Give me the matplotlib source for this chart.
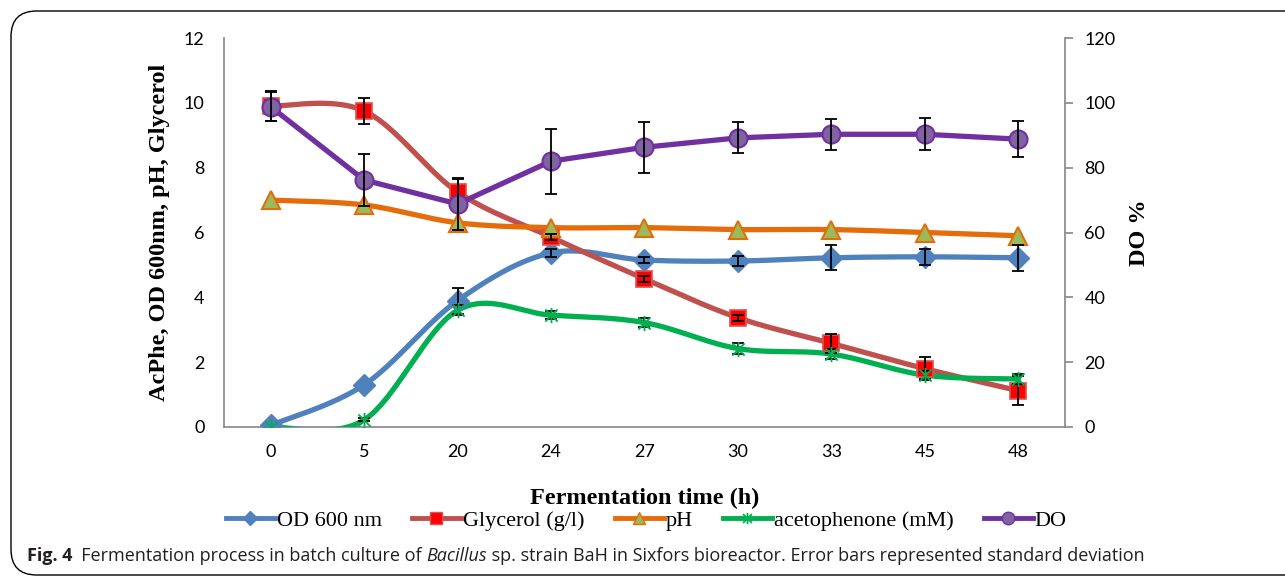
"""Fermentation time course in a batch bioreactor (OD, glycerol, pH, acetophenone, DO)."""

import matplotlib

matplotlib.use("Agg")

import matplotlib.pyplot as plt
import numpy as np
from matplotlib.lines import Line2D
from matplotlib.patches import FancyBboxPatch
from matplotlib.path import Path

TIME_LABELS = ["0", "5", "20", "24", "27", "30", "33", "45", "48"]

OD = [0.05, 1.30, 3.90, 5.37, 5.15, 5.12, 5.22, 5.25, 5.22]
OD_ERR = [0.0, 0.0, 0.40, 0.12, 0.10, 0.15, 0.38, 0.25, 0.40]

GLYCEROL = [9.90, 9.75, 7.25, 5.86, 4.57, 3.37, 2.58, 1.80, 1.12]
GLYCEROL_ERR = [0.45, 0.40, 0.40, 0.10, 0.10, 0.10, 0.30, 0.35, 0.45]

PH = [7.00, 6.85, 6.30, 6.15, 6.15, 6.09, 6.09, 6.00, 5.90]

ACETOPHENONE = [0.00, 0.22, 3.60, 3.45, 3.22, 2.42, 2.25, 1.60, 1.48]
ACETOPHENONE_ERR = [0.0, 0.05, 0.15, 0.12, 0.15, 0.18, 0.15, 0.12, 0.15]

DO = [98.8, 76.2, 68.8, 82.0, 86.3, 89.2, 90.3, 90.3, 88.8]
DO_ERR = [4.5, 8.0, 8.0, 10.0, 7.8, 4.8, 4.7, 5.0, 5.5]

BLUE = "#4f81bd"
RED_LINE = "#c0504d"
ORANGE = "#e46c0a"
OLIVE = "#9bbb59"
GREEN = "#00b050"
PURPLE = "#7030a0"
PURPLE_FILL = "#8064a2"
AXIS_GREY = "#868686"

SERIF = "Liberation Serif"
TICK_FONT = "Lato"
CAPTION_FONT = "Open Sans"

# Excel "star" marker: an x with a vertical stroke through it
STAR = Path(
    [(-1, -1), (1, 1), (-1, 1), (1, -1), (0, -1.25), (0, 1.25)],
    [Path.MOVETO, Path.LINETO, Path.MOVETO, Path.LINETO, Path.MOVETO, Path.LINETO],
)


def smooth(values, steps=40):
    """Excel-style smoothed line: cubic Bezier segments with Catmull-Rom controls."""
    pts = np.column_stack([np.arange(len(values), dtype=float), np.asarray(values, float)])
    n = len(pts)
    out = [pts[0]]
    t = np.linspace(0, 1, steps)[1:, None]
    for i in range(n - 1):
        p0 = pts[i - 1] if i > 0 else pts[i]
        p3 = pts[i + 2] if i + 2 < n else pts[i + 1]
        c1 = pts[i] + (pts[i + 1] - p0) / 6
        c2 = pts[i + 1] - (p3 - pts[i]) / 6
        seg = ((1 - t) ** 3) * pts[i] + 3 * ((1 - t) ** 2) * t * c1 \
            + 3 * (1 - t) * t ** 2 * c2 + t ** 3 * pts[i + 1]
        out.extend(seg)
    out = np.array(out)
    return out[:, 0], out[:, 1]


def errbars(ax, x, y, err, zorder):
    """Black capped error bars, skipping points without a measured deviation."""
    err = np.asarray(err, float)
    keep = err > 0
    ax.errorbar(np.asarray(x)[keep], np.asarray(y, float)[keep], yerr=err[keep],
                fmt="none", ecolor="black", elinewidth=1.3, capsize=4, capthick=1.3,
                zorder=zorder)


def main():
    fig = plt.figure(figsize=(12.85, 5.76), dpi=100)
    ax = fig.add_axes([0.1743, 0.2587, 0.8288 - 0.1743, 0.934 - 0.2587])
    ax2 = ax.twinx()

    x = np.arange(len(TIME_LABELS))
    lw = 3.8

    # primary axis series
    sx, sy = smooth(OD)
    ax.plot(sx, sy, color=BLUE, lw=lw, zorder=3)
    ax.plot(x, OD, ls="none", marker="D", ms=11, color=BLUE, mec=BLUE, zorder=4)
    errbars(ax, x, OD, OD_ERR, 5)

    sx, sy = smooth(GLYCEROL)
    ax.plot(sx, sy, color=RED_LINE, lw=lw, zorder=3)
    ax.plot(x, GLYCEROL, ls="none", marker="s", ms=12, color="#ff0000",
            mec="#d9534f", mew=1.2, zorder=4)
    errbars(ax, x, GLYCEROL, GLYCEROL_ERR, 5)

    sx, sy = smooth(PH)
    ax.plot(sx, sy, color=ORANGE, lw=lw, zorder=3)
    ax.plot(x, PH, ls="none", marker="^", ms=13, color=OLIVE, mec=ORANGE,
            mew=1.5, zorder=4)

    sx, sy = smooth(ACETOPHENONE)
    ax.plot(sx, sy, color=GREEN, lw=lw, zorder=3)
    errbars(ax, x, ACETOPHENONE, ACETOPHENONE_ERR, 4)
    ax.plot(x, ACETOPHENONE, ls="none", marker=STAR, ms=11, color=GREEN,
            mec=GREEN, mew=1.3, zorder=5)

    # secondary axis: dissolved oxygen, straight segments
    ax2.plot(x, DO, color=PURPLE, lw=lw, marker="o", ms=13, mfc=PURPLE_FILL,
             mec=PURPLE, mew=1.5, zorder=3)
    errbars(ax2, x, DO, DO_ERR, 4)

    ax.set_xlim(-0.5, len(TIME_LABELS) - 0.5)
    ax.set_ylim(0, 12)
    ax.set_yticks(np.arange(0, 13, 2))
    ax2.set_ylim(0, 120)
    ax2.set_yticks(np.arange(0, 121, 20))
    ax.set_xticks(x)
    ax.set_xticklabels(TIME_LABELS)

    for a in (ax, ax2):
        a.set_facecolor("none")
        a.spines["top"].set_visible(False)
        for side in ("left", "right", "bottom"):
            a.spines[side].set_color(AXIS_GREY)
            a.spines[side].set_linewidth(1.2)
    ax.spines["right"].set_visible(False)
    ax2.spines["left"].set_visible(False)
    ax2.spines["bottom"].set_visible(False)

    ax.tick_params(axis="y", length=0, pad=14, labelsize=13)
    ax.tick_params(axis="x", length=0, pad=12, labelsize=13)
    ax2.tick_params(axis="y", length=6, width=1.2, color=AXIS_GREY, pad=8, labelsize=13)
    for lab in ax.get_xticklabels() + ax.get_yticklabels() + ax2.get_yticklabels():
        lab.set_fontfamily(TICK_FONT)

    ax.set_ylabel("AcPhe, OD 600nm, pH, Glycerol", fontfamily=SERIF, fontweight="bold",
                  fontsize=17.5, labelpad=10)
    ax2.set_ylabel("DO %", fontfamily=SERIF, fontweight="bold", fontsize=17.5, labelpad=10)
    ax.set_xlabel("Fermentation time (h)", fontfamily=SERIF, fontweight="bold",
                  fontsize=17.5, labelpad=20)

    handles = [
        Line2D([], [], color=BLUE, lw=3.5, marker="D", ms=7, mec=BLUE),
        Line2D([], [], color=RED_LINE, lw=3.5, marker="s", ms=9, mfc="#ff0000", mec="#d9534f"),
        Line2D([], [], color=ORANGE, lw=3.5, marker="^", ms=9, mfc=OLIVE, mec=ORANGE),
        Line2D([], [], color=GREEN, lw=3.5, marker=STAR, ms=8, mec=GREEN, mew=1.3),
        Line2D([], [], color=PURPLE, lw=3.5, marker="o", ms=9, mfc=PURPLE_FILL, mec=PURPLE),
    ]
    labels = ["OD 600 nm", "Glycerol (g/l)", "pH", "acetophenone (mM)", "DO"]
    fig.legend(handles, labels, loc="center", bbox_to_anchor=(0.503, 1 - 521 / 576),
               ncol=5, frameon=False, prop={"family": SERIF, "size": 16},
               handlelength=2.2, handletextpad=0.1, columnspacing=1.35, borderpad=0)

    # caption with mixed bold / italic pieces
    y_cap = 1 - 556 / 576
    pieces = [
        ("Fig. 4", "bold", "normal"),
        ("  Fermentation process in batch culture of ", "normal", "normal"),
        ("Bacillus", "normal", "italic"),
        (" sp. strain BaH in Sixfors bioreactor. Error bars represented standard deviation",
         "normal", "normal"),
    ]
    fig.canvas.draw()
    renderer = fig.canvas.get_renderer()
    x_cap = 27 / 1285
    for text, weight, style in pieces:
        t = fig.text(x_cap, y_cap, text, fontfamily=CAPTION_FONT, fontweight=weight,
                     fontstyle=style, fontsize=13, color="#231f20", va="center",
                     ha="left")
        bb = t.get_window_extent(renderer)
        x_cap += bb.width / fig.bbox.width

    border = FancyBboxPatch((11 / 1285, 1 - 575 / 576), 1.05, (575 - 11) / 576,
                            boxstyle="round,pad=0,rounding_size=0.02",
                            transform=fig.transFigure, fill=False, ec="black", lw=1.0,
                            mutation_aspect=1285 / 576)
    fig.patches.append(border)

    fig.savefig("out.png", dpi=100)
    plt.close(fig)


if __name__ == "__main__":
    main()
